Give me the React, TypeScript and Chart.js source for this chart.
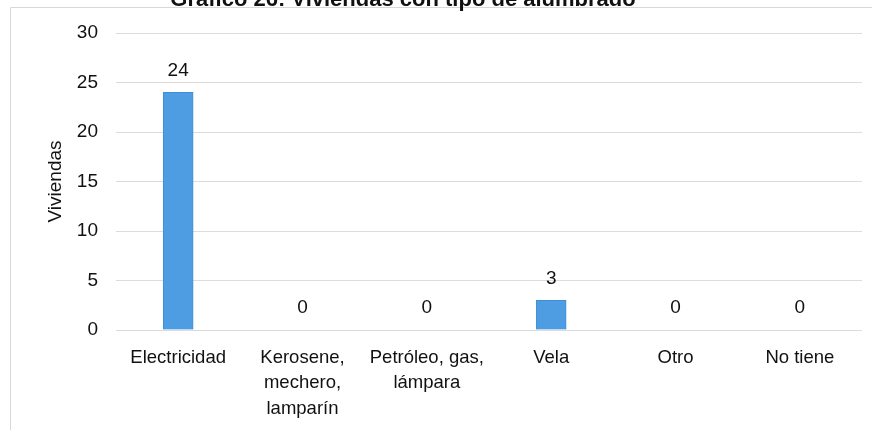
import React, { useEffect, useRef } from "react";
import { Chart, registerables } from "chart.js";

Chart.register(...registerables);

const categories: (string | string[])[] = [
  "Electricidad",
  ["Kerosene,", "mechero,", "lamparín"],
  ["Petróleo, gas,", "lámpara"],
  "Vela",
  "Otro",
  "No tiene",
];
const viviendas: number[] = [24, 0, 0, 3, 0, 0];
const yTicks: number[] = [0, 5, 10, 15, 20, 25, 30];
const chartTitle = "Gráfico 26: Viviendas con tipo de alumbrado";
const yTitle = "Viviendas";

const FONT = "'Liberation Sans', Arial, sans-serif";

export default function App() {
  const ref = useRef<HTMLCanvasElement | null>(null);

  useEffect(() => {
    document.body.style.margin = "0";
    if (!ref.current) return;

    const decor = {
      id: "decor",
      beforeDraw(chart: any) {
        const ctx = chart.ctx;
        ctx.save();
        ctx.fillStyle = "#ffffff";
        ctx.fillRect(0, 0, chart.width, chart.height);
        ctx.strokeStyle = "#d8d8d8";
        ctx.lineWidth = 1;
        ctx.beginPath();
        ctx.moveTo(10.5, 430);
        ctx.lineTo(10.5, 7.5);
        ctx.lineTo(872, 7.5);
        ctx.stroke();
        ctx.restore();
      },
      afterDatasetsDraw(chart: any) {
        const ctx = chart.ctx;
        const meta = chart.getDatasetMeta(0);
        ctx.save();
        ctx.fillStyle = "#111";
        ctx.font = `19px ${FONT}`;
        ctx.textAlign = "center";
        ctx.textBaseline = "middle";
        meta.data.forEach((bar: any, i: number) => {
          ctx.fillText(String(viviendas[i]), bar.x, bar.y - 22);
        });
        ctx.font = `bold 22px ${FONT}`;
        ctx.fillStyle = "#111";
        ctx.textBaseline = "alphabetic";
        ctx.fillText(chartTitle, 403, 6);
        ctx.restore();
      },
    };

    const chart = new Chart(ref.current, {
      type: "bar",
      data: {
        labels: categories,
        datasets: [
          {
            data: viviendas,
            backgroundColor: "#4e9de2",
            borderColor: "#3f8fd6",
            borderWidth: 1,
            barThickness: 30,
          },
        ],
      },
      options: {
        animation: false,
        responsive: true,
        maintainAspectRatio: false,
        layout: { padding: { left: 0, right: 10, top: 33, bottom: 0 } },
        plugins: {
          legend: { display: false },
          tooltip: { enabled: false },
        },
        scales: {
          x: {
            grid: { display: false, drawTicks: false },
            border: { display: false },
            ticks: {
              color: "#111",
              font: { family: FONT, size: 18.5, lineHeight: 1.38 },
              padding: 15,
              maxRotation: 0,
              autoSkip: false,
            },
            afterFit(scale: any) {
              scale.height = 100;
            },
          },
          y: {
            min: 0,
            max: 30,
            afterBuildTicks(scale: any) {
              scale.ticks = yTicks.map((v) => ({ value: v }));
            },
            grid: { color: "#dcdcdc", drawTicks: false, lineWidth: 1 },
            border: { display: false },
            ticks: {
              color: "#111",
              font: { family: FONT, size: 19 },
              padding: 18,
            },
            title: {
              display: true,
              text: yTitle,
              color: "#111",
              font: { family: FONT, size: 19 },
              padding: { top: 44, bottom: 0 },
            },
            afterFit(scale: any) {
              scale.width = 116;
            },
          },
        },
      },
      plugins: [decor],
    });

    return () => chart.destroy();
  }, []);

  return (
    <div style={{ width: 872, height: 430, position: "relative" }}>
      <canvas ref={ref} />
    </div>
  );
}
